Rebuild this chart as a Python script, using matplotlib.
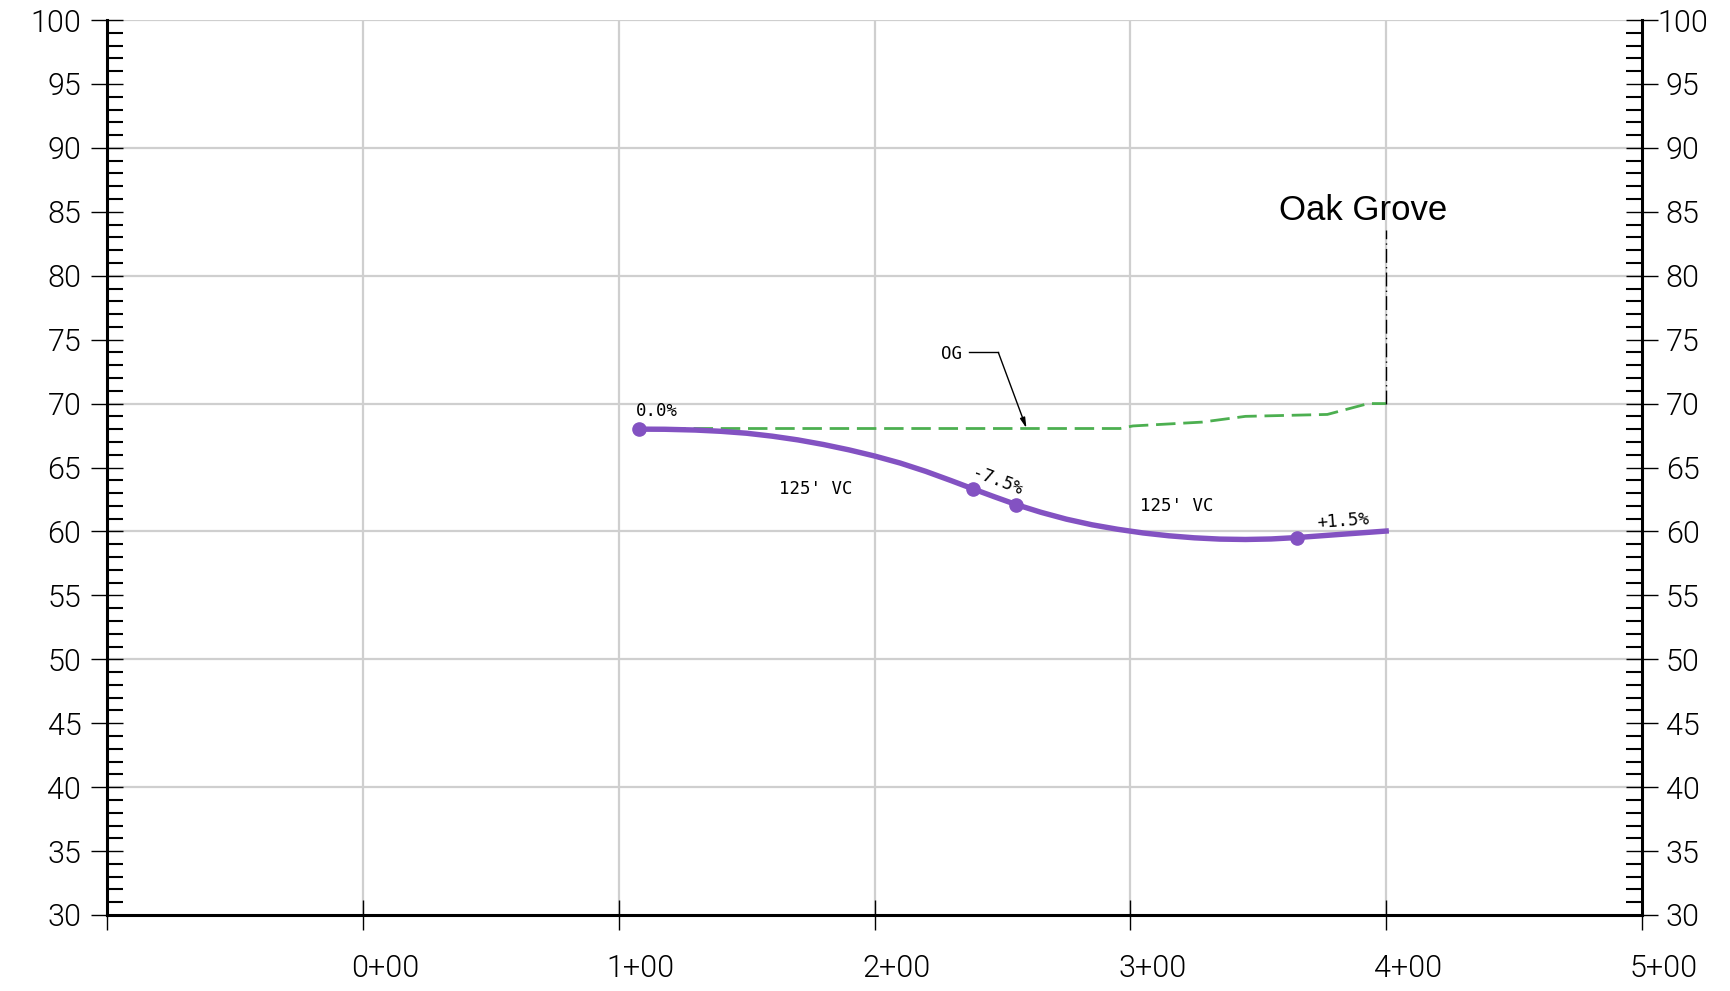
import numpy as np
import matplotlib
matplotlib.use('Agg')
import matplotlib.pyplot as plt
from matplotlib.ticker import MultipleLocator
from matplotlib.transforms import ScaledTranslation

# proposed profile (station ft, elevation ft)
profile_sta = [108, 118, 130, 140, 150, 160, 170, 180, 190, 200, 210, 220, 230,
               238.6, 247, 255.4, 265, 275, 285, 295, 305, 315, 325, 335, 345,
               355, 365, 400]
profile_elev = [68.0, 67.99, 67.93, 67.83, 67.68, 67.45, 67.16, 66.8, 66.38, 65.9,
                65.35, 64.7, 63.97, 63.32, 62.7, 62.1, 61.5, 60.96, 60.52, 60.17,
                59.88, 59.66, 59.5, 59.4, 59.37, 59.41, 59.52, 60.03]

# points marked on the profile
pt_sta = [108, 238.6, 255.4, 365]
pt_elev = [68.0, 63.32, 62.1, 59.52]

# original ground
og_sta = [108, 296, 301, 328, 345, 377, 393, 400]
og_elev = [68.05, 68.05, 68.25, 68.55, 69.0, 69.15, 70.0, 70.0]

x_ticks = [-100, 0, 100, 200, 300, 400, 500]
x_labels = ['', '0+00', '1+00', '2+00', '3+00', '4+00', '5+00']
y_ticks = list(range(30, 101, 5))
x_grid = [0, 100, 200, 300, 400]
y_grid = [40, 50, 60, 70, 80, 90, 100]

# grade labels
grade_text = ['0.0%', '-7.5%', '+1.5%']
grade_sta = [115, 248, 383]
grade_elev = [69.4, 63.9, 60.8]
grade_slope = [0.0, -0.075, 0.015]

# vertical curve labels
vc_text = ["125' VC", "125' VC"]
vc_sta = [177, 318]
vc_elev = [63.3, 62.0]

# OG callout
og_text_pos = (230, 73.9)
og_leader_sta = [237, 248.4]
og_leader_elev = [74.0, 74.0]
og_tip = (259.4, 68.07)

# station marker
site_name = 'Oak Grove'
site_sta = 400
site_label_pos = (391, 85.1)
site_line_elev = [70, 83.6]

purple = '#8352c2'
green = '#4caf50'
grid_col = '#cfcfcf'
cad_font = 'DejaVu Sans Mono'

fig = plt.figure(figsize=(17.31, 9.91), dpi=100)
ax = fig.add_axes([107 / 1731, 76 / 991, 1535 / 1731, 895 / 991])
ax.set_xlim(-100, 500)
ax.set_ylim(30, 100)

# grid
ax.hlines(y_grid, -100, 500, colors=grid_col, lw=1.6, zorder=0)
ax.vlines(x_grid, 30, 100, colors=grid_col, lw=1.6, zorder=0)

# lines
ax.plot(og_sta, og_elev, color=green, lw=2.0, dashes=(7, 2.8), zorder=2)
ax.plot(profile_sta, profile_elev, color=purple, lw=3.9, zorder=3,
        solid_joinstyle='round')
ax.plot(pt_sta, pt_elev, 'o', color=purple, ms=9.5, zorder=4)

# labels on the profile
for txt, s, e, g in zip(grade_text, grade_sta, grade_elev, grade_slope):
    ax.text(s, e, txt, fontsize=12.5, family=cad_font, ha='center', va='center',
            rotation=np.degrees(np.arctan(g)), rotation_mode='anchor',
            transform_rotates_text=True)
for txt, s, e in zip(vc_text, vc_sta, vc_elev):
    ax.text(s, e, txt, fontsize=12.5, family=cad_font, ha='center', va='center')

# OG callout
ax.text(og_text_pos[0], og_text_pos[1], 'OG', fontsize=12.5, family=cad_font,
        ha='center', va='center')
ax.plot(og_leader_sta, og_leader_elev, color='black', lw=1)
ax.annotate('', xy=og_tip, xytext=(og_leader_sta[-1], og_leader_elev[-1]),
            arrowprops=dict(arrowstyle='-|>,head_length=0.6,head_width=0.15',
                            color='black', lw=1, shrinkA=0, shrinkB=0))

# station marker
ax.plot([site_sta, site_sta], site_line_elev, color='black', lw=1,
        linestyle=(0, (10, 3, 1, 3)))
ax.text(site_label_pos[0], site_label_pos[1], site_name, fontsize=25,
        family='Liberation Sans', ha='center', va='center')

# spines
ax.spines['top'].set_visible(False)
for side in ['left', 'right', 'bottom']:
    ax.spines[side].set_linewidth(2.2)
    ax.spines[side].set_color('black')

# ticks
ax.set_xticks(x_ticks)
ax.set_xticklabels(x_labels)
ax.set_yticks(y_ticks)
ax.yaxis.set_minor_locator(MultipleLocator(1))
ax.tick_params(axis='x', direction='inout', length=21.6, width=1, pad=17,
               labelsize=22)
ax.tick_params(axis='y', which='major', direction='inout', length=23, width=1,
               pad=7, labelsize=22, left=True, right=True,
               labelleft=True, labelright=True)
ax.tick_params(axis='y', which='minor', direction='in', length=11.5, width=1.5,
               left=True, right=True)

for lab in ax.get_xticklabels() + ax.get_yticklabels():
    lab.set_family('Roboto')
    lab.set_weight(300)
    lab.set_color('black')

dx = ScaledTranslation(0.22, 0, fig.dpi_scale_trans)
for lab in ax.get_xticklabels():
    lab.set_transform(lab.get_transform() + dx)

dr = ScaledTranslation(0.15, 0, fig.dpi_scale_trans)
for tick in ax.yaxis.get_major_ticks():
    tick.label2.set_ha('center')
    tick.label2.set_transform(tick.label2.get_transform() + dr)

fig.savefig('out.png', dpi=100)
